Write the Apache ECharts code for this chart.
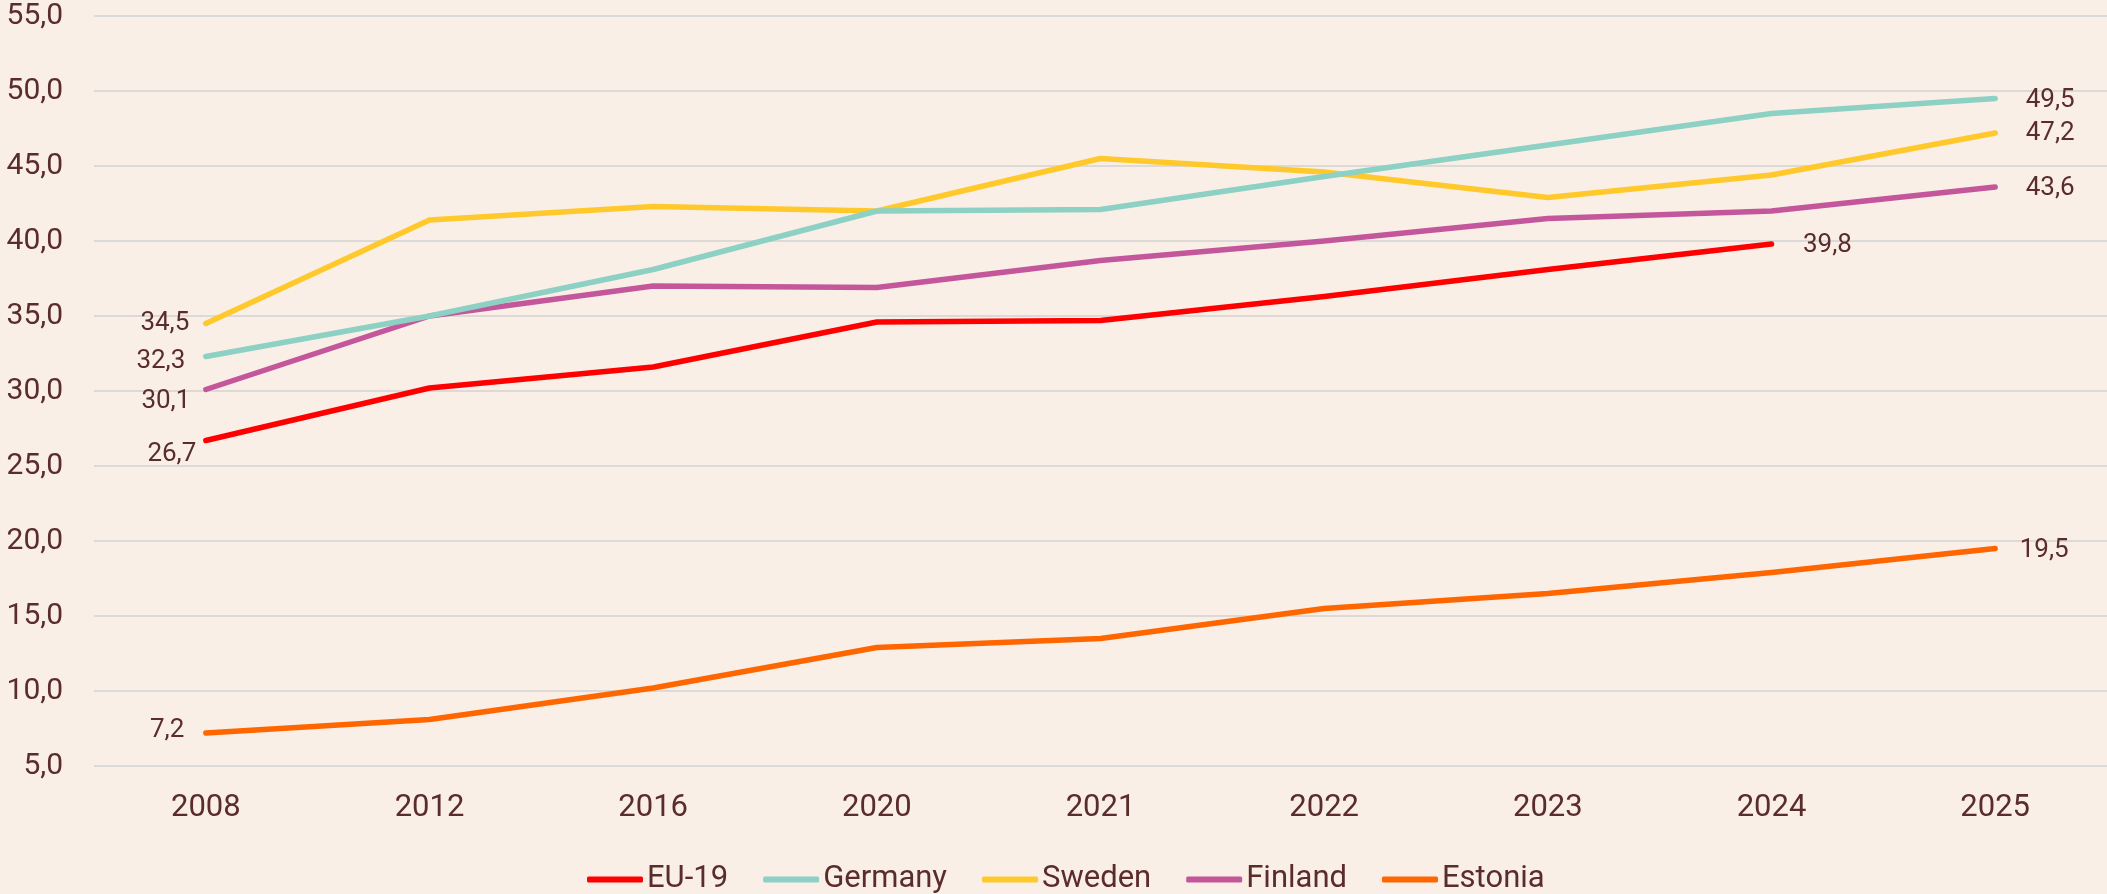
<!DOCTYPE html>
<html>
<head>
<meta charset="utf-8">
<script src="https://cdn.jsdelivr.net/npm/echarts@6/dist/echarts.min.js"></script>
<style>
html,body{margin:0;padding:0;background:#F9EFE6;}
#chart{width:2107px;height:894px;}
</style>
</head>
<body>
<div id="chart"></div>
<script>
const categories = ['2008','2012','2016','2020','2021','2022','2023','2024','2025'];
const seriesNames = ['EU-19','Germany','Sweden','Finland','Estonia'];
const eu19    = [26.7, 30.2, 31.6, 34.6, 34.7, 36.3, 38.1, 39.8, null];
const germany = [32.3, 35.0, 38.1, 42.0, 42.1, 44.3, 46.4, 48.5, 49.5];
const sweden  = [34.5, 41.4, 42.3, 42.0, 45.5, 44.6, 42.9, 44.4, 47.2];
const finland = [30.1, 35.0, 37.0, 36.9, 38.7, 40.0, 41.5, 42.0, 43.6];
const estonia = [7.2, 8.1, 10.2, 12.9, 13.5, 15.5, 16.5, 17.9, 19.5];
const yTicks = [5, 55, 5]; // min, max, interval

const values = [eu19, germany, sweden, finland, estonia];
const colors = ['#FF0000', '#8DD0C4', '#FFC92C', '#C4579C', '#FF6600'];
const textColor = '#5A2C2C';
// label placement [distance, dy] for first and last labelled points
const firstLabel = [[9, 14], [20, 5], [16, 0], [15, 12], [21, -3]];
const lastLabel  = [[31, 1], [30, 2], [30, 0], [30, 1], [24, 1.5]];

const fmt = v => v.toFixed(1).replace('.', ',');

function buildData(arr, idx) {
  let first = arr.findIndex(v => v != null);
  let last = arr.length - 1;
  while (arr[last] == null) last--;
  return arr.map((v, i) => {
    if (v == null) return null;
    if (i === first) {
      return { value: v, label: { show: true, position: 'left', distance: firstLabel[idx][0], offset: [0, firstLabel[idx][1]] } };
    }
    if (i === last) {
      return { value: v, label: { show: true, position: 'right', distance: lastLabel[idx][0], offset: [0, lastLabel[idx][1]] } };
    }
    return v;
  });
}

const chart = echarts.init(document.getElementById('chart'), null, { renderer: 'canvas' });
chart.setOption({
  backgroundColor: '#F9EFE6',
  animation: false,
  textStyle: { fontFamily: 'Roboto' },
  grid: { left: 94, right: 0, top: 16, bottom: 128, containLabel: false },
  legend: {
    top: 859,
    left: 582,
    itemWidth: 56,
    itemHeight: 6,
    itemGap: 35,
    icon: 'roundRect',
    textStyle: { fontFamily: 'Roboto', fontSize: 31, color: textColor, padding: [0, 0, 0, -1] },
    data: seriesNames
  },
  xAxis: {
    type: 'category',
    data: categories,
    boundaryGap: true,
    axisLine: { show: false },
    axisTick: { show: false },
    axisLabel: { fontFamily: 'Roboto', fontSize: 31, color: textColor, margin: 27 }
  },
  yAxis: {
    type: 'value',
    min: yTicks[0],
    max: yTicks[1],
    interval: yTicks[2],
    axisLine: { show: false },
    axisTick: { show: false },
    axisLabel: { fontFamily: 'Roboto', fontSize: 30, color: textColor, margin: 31, formatter: fmt },
    splitLine: { lineStyle: { color: '#DCD9D6', width: 2 } }
  },
  series: seriesNames.map((name, idx) => ({
    name: name,
    type: 'line',
    data: buildData(values[idx], idx),
    color: colors[idx],
    symbol: 'circle',
    symbolSize: 1,
    showSymbol: true,
    lineStyle: { width: 5.5, color: colors[idx], cap: 'round', join: 'round' },
    itemStyle: { color: colors[idx] },
    label: {
      show: false,
      fontFamily: 'Roboto',
      fontSize: 26,
      color: textColor,
      formatter: p => fmt(p.value)
    },
    emphasis: { disabled: true },
    z: 10 - idx
  }))
});
</script>
</body>
</html>
